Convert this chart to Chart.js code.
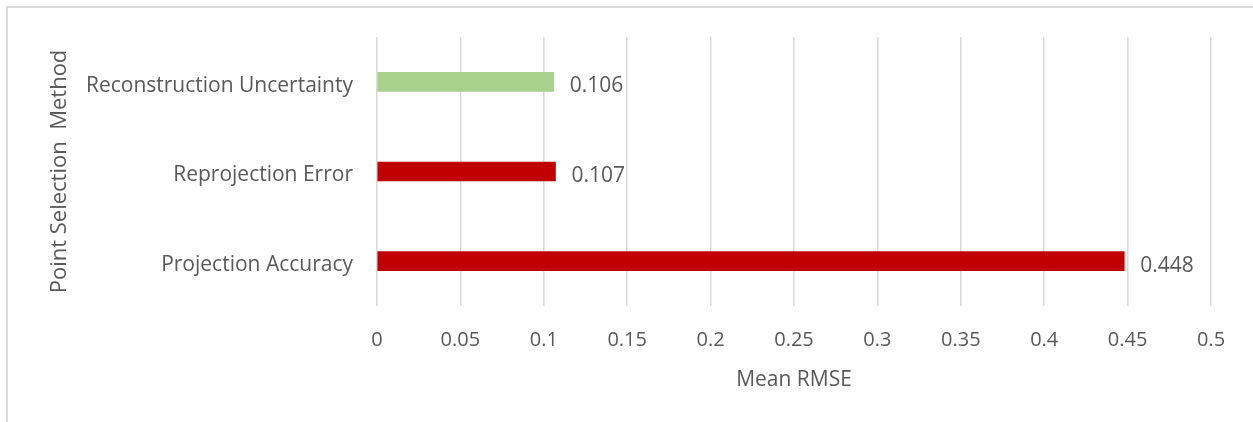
<!DOCTYPE html>
<html>
<head>
<meta charset="utf-8">
<script src="https://cdn.jsdelivr.net/npm/chart.js@4/dist/chart.umd.min.js"></script>
<style>
  html, body { margin: 0; padding: 0; background: #ffffff; }
  #wrap { position: relative; width: 1253px; height: 422px; overflow: hidden; }
  #frame { position: absolute; left: 6px; top: 6px; width: 1300px; height: 500px;
           border-top: 2px solid #d9d9d9; border-left: 2px solid #d9d9d9; box-sizing: border-box; }
  canvas { position: absolute; left: 0; top: 0; }
</style>
</head>
<body>
<div id="wrap">
  <div id="frame"></div>
  <canvas id="chart" width="1253" height="422"></canvas>
</div>
<script>
// Mean RMSE per point selection method
const categories = ['Reconstruction Uncertainty', 'Reprojection Error', 'Projection Accuracy'];
const meanRmse = [0.106, 0.107, 0.448];
const xTickMin = 0;
const xTickMax = 0.5;
const xTickStep = 0.05;

const FONT = "'Open Sans', 'DejaVu Sans', sans-serif";
const TEXT = '#595959';

// Writes each bar's value just past its end
const valueLabels = {
  id: 'valueLabels',
  afterDatasetsDraw(chart) {
    const ctx = chart.ctx;
    const meta = chart.getDatasetMeta(0);
    ctx.save();
    ctx.font = '21px ' + FONT;
    ctx.fillStyle = TEXT;
    ctx.textAlign = 'left';
    ctx.textBaseline = 'middle';
    meta.data.forEach((bar, i) => {
      ctx.fillText(String(meanRmse[i]), bar.x + 16, bar.y + 4.5);
    });
    ctx.restore();
  }
};

new Chart(document.getElementById('chart'), {
  type: 'bar',
  data: {
    labels: categories,
    datasets: [{
      data: meanRmse,
      backgroundColor: ['#a9d18e', '#c00000', '#c00000'],
      borderWidth: 0,
      barThickness: 19
    }]
  },
  options: {
    indexAxis: 'y',
    responsive: false,
    animation: false,
    layout: { padding: { top: 37, right: 42, left: 0, bottom: 0 } },
    plugins: { legend: { display: false }, tooltip: { enabled: false } },
    scales: {
      x: {
        min: xTickMin,
        max: xTickMax,
        afterFit(scale) { scale.height = 116; },
        grid: { color: '#d9d9d9', lineWidth: 1.5, drawTicks: false },
        border: { display: false },
        ticks: {
          stepSize: xTickStep,
          padding: 22,
          color: TEXT,
          font: { family: FONT, size: 20 },
          callback: v => String(Number(Number(v).toFixed(2)))
        },
        title: {
          display: true,
          text: 'Mean RMSE',
          color: TEXT,
          font: { family: FONT, size: 21 },
          padding: { top: 0, bottom: 29 }
        }
      },
      y: {
        afterFit(scale) { scale.width = 377; },
        grid: { display: false, drawTicks: false },
        border: { display: false },
        ticks: {
          padding: 24,
          labelOffset: 4,
          color: TEXT,
          font: { family: FONT, size: 21 }
        },
        title: {
          display: true,
          text: 'Point Selection  Method',
          color: TEXT,
          font: { family: FONT, size: 22 },
          padding: { top: 47, bottom: 0 }
        }
      }
    }
  },
  plugins: [valueLabels]
});
</script>
</body>
</html>
